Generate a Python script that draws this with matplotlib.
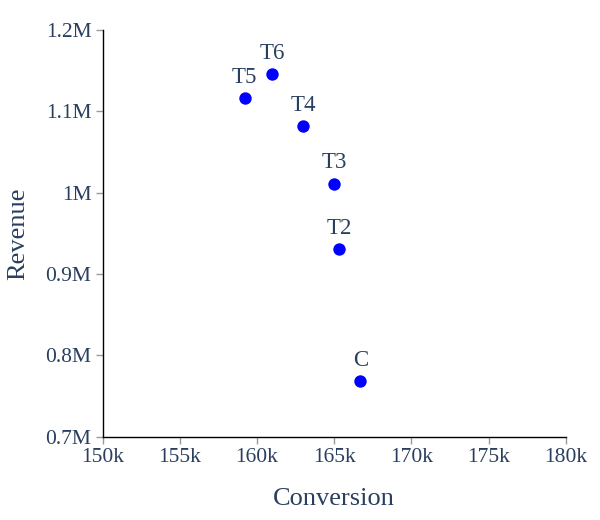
import matplotlib
matplotlib.use("Agg")
import matplotlib.pyplot as plt
from matplotlib.ticker import FuncFormatter

# data
labels     = ["C", "T2", "T3", "T4", "T5", "T6"]
conversion = [166.7e3, 165.3e3, 165.0e3, 163.0e3, 159.2e3, 161.0e3]
revenue    = [0.768e6, 0.931e6, 1.011e6, 1.082e6, 1.116e6, 1.1455e6]

TEXT = "#2a3f5f"
plt.rcParams["font.family"] = ["Liberation Serif", "DejaVu Serif"]

fig = plt.figure(figsize=(6, 5.2), dpi=100)
ax = fig.add_axes([0.171, 0.160, 0.772, 0.782])

ax.scatter(conversion, revenue, s=80, color="#0000ff", zorder=3, linewidths=0)
for lab, x, y in zip(labels, conversion, revenue):
    ax.annotate(lab, (x, y), xytext=(0, 7.5), textcoords="offset points",
                ha="center", va="bottom", fontsize=16.5, color=TEXT)

ax.set_xlim(150e3, 180e3)
ax.set_ylim(0.7e6, 1.2e6)
ax.set_xticks([150e3 + 5e3 * i for i in range(7)])
ax.set_yticks([0.7e6 + 0.1e6 * i for i in range(6)])
ax.xaxis.set_major_formatter(FuncFormatter(lambda v, p: f"{v / 1e3:g}k"))
ax.yaxis.set_major_formatter(FuncFormatter(lambda v, p: f"{v / 1e6:g}M"))

for side in ("top", "right"):
    ax.spines[side].set_visible(False)
for side in ("left", "bottom"):
    ax.spines[side].set_color("black")
    ax.spines[side].set_linewidth(1)

ax.tick_params(axis="both", direction="out", length=5, width=1,
               color="#999999", labelcolor=TEXT, labelsize=15.5, pad=3)

ax.set_xlabel("Conversion", fontsize=19, color=TEXT, labelpad=15)
ax.set_ylabel("Revenue", fontsize=19, color=TEXT, labelpad=12)

fig.savefig("out.png", dpi=100, facecolor="white")
